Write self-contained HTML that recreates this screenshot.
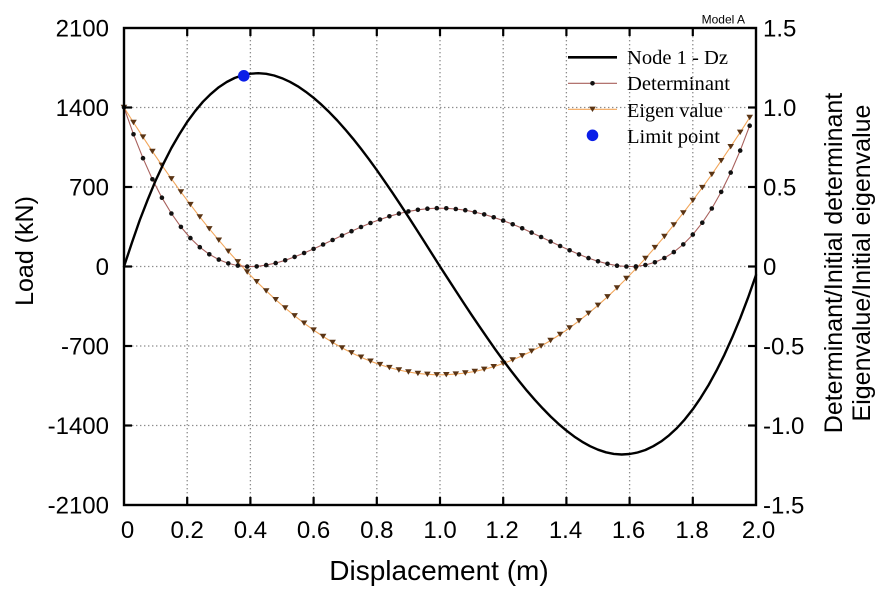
<!DOCTYPE html>
<html>
<head>
<meta charset="utf-8">
<style>
  html, body { margin: 0; padding: 0; background: #ffffff; }
  svg { display: block; }
  .ax { font-family: "Liberation Sans", Arial, sans-serif; fill: #000; }
  .lg { font-family: "Liberation Serif", "Times New Roman", serif; fill: #000; }
</style>
</head>
<body>
<svg width="895" height="596" viewBox="0 0 895 596" xmlns="http://www.w3.org/2000/svg">
  <defs>
    <marker id="dot" markerUnits="userSpaceOnUse" markerWidth="7" markerHeight="7" refX="3.5" refY="3.5" viewBox="0 0 7 7">
      <circle cx="3.5" cy="3.5" r="2.3" fill="#111"/>
    </marker>
    <marker id="tri" markerUnits="userSpaceOnUse" markerWidth="9" markerHeight="9" refX="4.5" refY="4.5" viewBox="0 0 9 9">
      <path d="M1.2,1.8 L7.8,1.8 L4.5,7.2 Z" fill="#5a3414"/>
    </marker>
  </defs>

  <rect x="0" y="0" width="895" height="596" fill="#ffffff"/>

  <!-- grid -->
  <g stroke="#8c8c8c" stroke-width="1.3" stroke-dasharray="1.4 2.6" fill="none">
    <line x1="187.2" y1="28" x2="187.2" y2="505"/>
    <line x1="250.4" y1="28" x2="250.4" y2="505"/>
    <line x1="313.6" y1="28" x2="313.6" y2="505"/>
    <line x1="376.8" y1="28" x2="376.8" y2="505"/>
    <line x1="440" y1="28" x2="440" y2="505"/>
    <line x1="503.2" y1="28" x2="503.2" y2="505"/>
    <line x1="566.4" y1="28" x2="566.4" y2="505"/>
    <line x1="629.6" y1="28" x2="629.6" y2="505"/>
    <line x1="692.8" y1="28" x2="692.8" y2="505"/>
    <line x1="124" y1="107.5" x2="756" y2="107.5"/>
    <line x1="124" y1="187" x2="756" y2="187"/>
    <line x1="124" y1="266.5" x2="756" y2="266.5"/>
    <line x1="124" y1="346" x2="756" y2="346"/>
    <line x1="124" y1="425.5" x2="756" y2="425.5"/>
  </g>

  <!-- Eigen value series -->
  <polyline fill="none" stroke="#f2a65a" stroke-width="1.1"
    marker-start="url(#tri)" marker-mid="url(#tri)" marker-end="url(#tri)"
    points="124,107.5 133.5,122.5 143,137.1 152.4,151.4 161.9,165.3 171.4,178.8 180.9,191.9 190.4,204.6 199.8,216.9 209.3,228.8 218.8,240.2 228.3,251.3 237.8,261.8 247.2,272.0 256.7,281.7 266.2,290.9 275.7,299.7 285.2,308.0 294.6,315.8 304.1,323.2 313.6,330.1 323.1,336.5 332.6,342.4 342,347.9 351.5,352.8 361,357.2 370.5,361.2 380,364.6 389.4,367.6 398.9,370.0 408.4,372.0 417.9,373.4 427.4,374.3 436.8,374.8 446.3,374.7 455.8,374.1 465.3,373.0 474.8,371.4 484.2,369.3 493.7,366.7 503.2,363.5 512.7,359.9 522.2,355.8 531.6,351.2 541.1,346.1 550.6,340.5 560.1,334.4 569.6,327.9 579,320.8 588.5,313.3 598,305.3 607.5,296.8 617,287.9 626.4,278.5 635.9,268.7 645.4,258.4 654.9,247.6 664.4,236.5 673.8,224.9 683.3,212.9 692.8,200.4 702.3,187.6 711.8,174.4 721.2,160.7 730.7,146.7 740.2,132.3 749.7,117.5"/>

  <!-- Determinant series -->
  <polyline fill="none" stroke="#a8605c" stroke-width="1.1"
    marker-start="url(#dot)" marker-mid="url(#dot)" marker-end="url(#dot)"
    points="124,107.4 133.5,134.3 143,158.2 152.4,179.3 161.9,197.7 171.4,213.5 180.9,226.9 190.4,238.1 199.8,247.2 209.3,254.3 218.8,259.6 228.3,263.4 237.8,265.6 247.2,266.6 256.7,266.4 266.2,265.1 275.7,263.1 285.2,260.3 294.6,256.9 304.1,253.0 313.6,248.9 323.1,244.5 332.6,240.0 342,235.5 351.5,231.2 361,227.0 370.5,223.0 380,219.5 389.4,216.3 398.9,213.6 408.4,211.4 417.9,209.8 427.4,208.7 436.8,208.2 446.3,208.3 455.8,209.0 465.3,210.2 474.8,212.1 484.2,214.4 493.7,217.3 503.2,220.6 512.7,224.3 522.2,228.3 531.6,232.6 541.1,237.0 550.6,241.5 560.1,246.0 569.6,250.3 579,254.4 588.5,258.1 598,261.3 607.5,263.8 617,265.7 626.4,266.5 635.9,266.4 645.4,265.0 654.9,262.3 664.4,258.0 673.8,252.1 683.3,244.4 692.8,234.6 702.3,222.7 711.8,208.5 721.2,191.9 730.7,172.6 740.2,150.6 749.7,125.7"/>

  <!-- Load curve (Node 1 - Dz) -->
  <polyline fill="none" stroke="#000" stroke-width="2.4" stroke-linejoin="round" stroke-linecap="round"
    points="124,266.5 131.9,242.8 139.8,220.0 147.7,199.7 155.6,180.6 163.5,163.6 171.4,148.0 179.3,134.4 187.2,121.9 195.1,111.2 203,101.7 210.9,93.9 218.8,87.2 226.7,82.0 234.6,78.0 242.5,75.2 250.4,73.7 258.3,73.2 266.2,73.8 274.1,75.5 282,78.2 289.9,81.8 297.8,86.3 305.7,91.7 313.6,97.8 321.5,104.7 329.4,112.3 337.3,120.5 345.2,129.4 353.1,138.8 361,148.8 368.9,159.2 376.8,170.1 384.7,181.4 392.6,192.9 400.5,204.8 408.4,216.8 416.3,229.1 424.2,241.5 432.1,254.0 440,266.5 447.9,278.7 455.8,290.9 463.7,303.0 471.6,314.9 479.5,326.6 487.4,338.1 495.3,349.4 503.2,360.3 511.1,370.9 519,381.0 526.9,390.7 534.8,399.8 542.7,408.4 550.6,416.5 558.5,423.9 566.4,430.6 574.3,436.6 582.2,441.8 590.1,446.2 598,449.7 605.9,452.3 613.8,453.9 621.7,454.5 629.6,454.0 637.5,452.5 645.4,450.0 653.3,446.2 661.2,441.4 669.1,435.3 677,428.0 684.9,419.3 692.8,409.3 700.7,397.8 708.6,385.0 716.5,370.6 724.4,354.8 732.3,337.3 740.2,318.3 748.1,297.6 756,275.0"/>

  <!-- Limit point -->
  <circle cx="243.8" cy="75.8" r="5.8" fill="#0a1ee8"/>

  <!-- frame -->
  <rect x="124" y="28" width="632" height="477" fill="none" stroke="#000" stroke-width="2.4"/>

  <!-- ticks -->
  <g stroke="#000" stroke-width="2.2">
    <line x1="187.2" y1="505" x2="187.2" y2="497"/>
    <line x1="250.4" y1="505" x2="250.4" y2="497"/>
    <line x1="313.6" y1="505" x2="313.6" y2="497"/>
    <line x1="376.8" y1="505" x2="376.8" y2="497"/>
    <line x1="440" y1="505" x2="440" y2="497"/>
    <line x1="503.2" y1="505" x2="503.2" y2="497"/>
    <line x1="566.4" y1="505" x2="566.4" y2="497"/>
    <line x1="629.6" y1="505" x2="629.6" y2="497"/>
    <line x1="692.8" y1="505" x2="692.8" y2="497"/>
    <line x1="187.2" y1="28" x2="187.2" y2="36"/>
    <line x1="250.4" y1="28" x2="250.4" y2="36"/>
    <line x1="313.6" y1="28" x2="313.6" y2="36"/>
    <line x1="376.8" y1="28" x2="376.8" y2="36"/>
    <line x1="440" y1="28" x2="440" y2="36"/>
    <line x1="503.2" y1="28" x2="503.2" y2="36"/>
    <line x1="566.4" y1="28" x2="566.4" y2="36"/>
    <line x1="629.6" y1="28" x2="629.6" y2="36"/>
    <line x1="692.8" y1="28" x2="692.8" y2="36"/>
    <line x1="124" y1="107.5" x2="132" y2="107.5"/>
    <line x1="124" y1="187" x2="132" y2="187"/>
    <line x1="124" y1="266.5" x2="132" y2="266.5"/>
    <line x1="124" y1="346" x2="132" y2="346"/>
    <line x1="124" y1="425.5" x2="132" y2="425.5"/>
    <line x1="756" y1="107.5" x2="748" y2="107.5"/>
    <line x1="756" y1="187" x2="748" y2="187"/>
    <line x1="756" y1="266.5" x2="748" y2="266.5"/>
    <line x1="756" y1="346" x2="748" y2="346"/>
    <line x1="756" y1="425.5" x2="748" y2="425.5"/>
  </g>

  <!-- left tick labels -->
  <g class="ax" font-size="24" text-anchor="end">
    <text x="109" y="36.5">2100</text>
    <text x="109" y="116">1400</text>
    <text x="109" y="195.5">700</text>
    <text x="109" y="275">0</text>
    <text x="109" y="354.5">-700</text>
    <text x="109" y="434">-1400</text>
    <text x="109" y="513.5">-2100</text>
  </g>

  <!-- right tick labels -->
  <g class="ax" font-size="24" text-anchor="start">
    <text x="763" y="36.5">1.5</text>
    <text x="763" y="116">1.0</text>
    <text x="763" y="195.5">0.5</text>
    <text x="763" y="275">0</text>
    <text x="763" y="354.5">-0.5</text>
    <text x="763" y="434">-1.0</text>
    <text x="763" y="513.5">-1.5</text>
  </g>

  <!-- bottom tick labels -->
  <g class="ax" font-size="24" text-anchor="middle">
    <text x="127.5" y="538">0</text>
    <text x="187.2" y="538">0.2</text>
    <text x="250.4" y="538">0.4</text>
    <text x="313.6" y="538">0.6</text>
    <text x="376.8" y="538">0.8</text>
    <text x="440" y="538">1.0</text>
    <text x="502" y="538">1.2</text>
    <text x="565.5" y="538">1.4</text>
    <text x="628.5" y="538">1.6</text>
    <text x="692" y="538">1.8</text>
    <text x="758.5" y="538">2.0</text>
  </g>

  <!-- axis titles -->
  <text class="ax" x="439" y="580" font-size="28" text-anchor="middle">Displacement (m)</text>
  <text class="ax" font-size="25" text-anchor="middle" transform="translate(33,251) rotate(-90)">Load (kN)</text>
  <text class="ax" font-size="25" text-anchor="middle" transform="translate(842,263) rotate(-90)">Determinant/Initial determinant</text>
  <text class="ax" font-size="25" text-anchor="middle" transform="translate(870,263) rotate(-90)">Eigenvalue/Initial eigenvalue</text>

  <!-- Model A -->
  <text class="ax" x="745" y="23.5" font-size="12" text-anchor="end">Model A</text>

  <!-- legend -->
  <line x1="568" y1="57.3" x2="617" y2="57.3" stroke="#000" stroke-width="2.6"/>
  <line x1="568" y1="83.3" x2="617" y2="83.3" stroke="#a8605c" stroke-width="1.1"/>
  <circle cx="592.5" cy="83.3" r="2.3" fill="#111"/>
  <line x1="568" y1="109.3" x2="617" y2="109.3" stroke="#f2a65a" stroke-width="1.1"/>
  <path d="M589.2,106.6 L595.8,106.6 L592.5,112 Z" fill="#5a3414"/>
  <circle cx="592.5" cy="135.3" r="5.8" fill="#0a1ee8"/>

  <g class="lg" font-size="20">
    <text x="627" y="64" textLength="101" lengthAdjust="spacingAndGlyphs">Node 1 - Dz</text>
    <text x="627" y="90" textLength="103" lengthAdjust="spacingAndGlyphs">Determinant</text>
    <text x="627" y="117" textLength="96" lengthAdjust="spacingAndGlyphs">Eigen value</text>
    <text x="627" y="143" textLength="93" lengthAdjust="spacingAndGlyphs">Limit point</text>
  </g>
</svg>
</body>
</html>
